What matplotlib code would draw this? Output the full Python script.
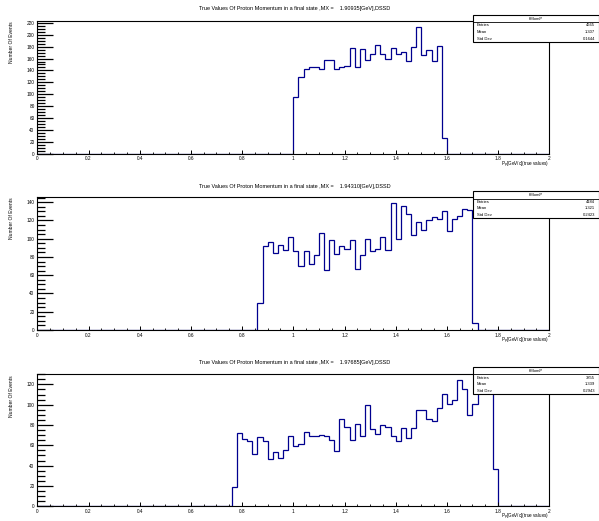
import numpy as np
import matplotlib
matplotlib.use("Agg")
import matplotlib.pyplot as plt
from matplotlib.patches import Rectangle
from matplotlib.ticker import MultipleLocator, FuncFormatter

plt.rcParams['font.family'] = ['Liberation Sans', 'DejaVu Sans']

# ---- data (counts per 0.02 GeV/c bin, 0..2 GeV/c) ----
N_BINS = 100
X_MIN, X_MAX = 0.0, 2.0

titles = [
    "True Values Of Proton Momentum in a final state ,MX =    1.90935[GeV],DSSD",
    "True Values Of Proton Momentum in a final state ,MX =    1.94310[GeV],DSSD",
    "True Values Of Proton Momentum in a final state ,MX =    1.97685[GeV],DSSD",
]

# first non-empty bin index and counts from there on
p1_first = 50
p1_counts = [96, 129, 143, 146, 145, 142, 157, 158, 142, 146,
             148, 177, 146, 176, 157, 168, 183, 168, 160, 177,
             167, 171, 156, 180, 213, 166, 174, 156, 181, 27]

p2_first = 43
p2_counts = [30, 92, 96, 84, 93, 88, 102, 86, 70, 86,
             72, 82, 106, 66, 99, 83, 92, 89, 98, 67,
             82, 100, 87, 89, 102, 88, 139, 100, 136, 127,
             104, 118, 109, 120, 124, 122, 130, 108, 122, 125,
             132, 131, 8]

p3_first = 38
p3_counts = [19, 72, 66, 64, 51, 68, 64, 47, 53, 48,
             55, 69, 59, 61, 73, 69, 69, 70, 69, 65,
             54, 86, 78, 65, 81, 69, 100, 76, 71, 80,
             78, 69, 64, 77, 67, 77, 95, 95, 86, 84,
             97, 111, 101, 105, 124, 115, 90, 101, 116, 112,
             119, 37]

stat_entries = ["4665", "4184", "3855"]
stat_means = ["1.307", "1.321", "1.339"]
stat_std = ["0.1644", "0.2423", "0.2943"]
stat_name = "hMomP"

first_bins = [p1_first, p2_first, p3_first]
counts_list = [p1_counts, p2_counts, p3_counts]

# ---- layout (pixels) ----
W, H = 599, 521
AX_L, AX_R = 37.3, 549.3
panel_y = [(20.7, 153.7), (196.7, 330.0), (374.0, 506.3)]   # top, bottom
title_y = [8.5, 186.5, 362.5]
box_y = [(15.0, 22.0, 42.0), (191.3, 198.7, 217.7), (367.3, 374.3, 394.3)]
BOX_L, BOX_R = 472.7, 598.5

LINE_COL = "#00008f"

fig = plt.figure(figsize=(W / 100, H / 100), dpi=100)


def fx(px):
    return px / W


def fy(py):
    return 1 - py / H


for i in range(3):
    top, bot = panel_y[i]
    ax = fig.add_axes([fx(AX_L), fy(bot), (AX_R - AX_L) / W, (bot - top) / H])

    vals = np.zeros(N_BINS)
    c = counts_list[i]
    vals[first_bins[i]:first_bins[i] + len(c)] = c
    edges = np.linspace(X_MIN, X_MAX, N_BINS + 1)
    ax.stairs(vals, edges, color=LINE_COL, lw=0.9, baseline=0)

    ax.set_xlim(X_MIN, X_MAX)
    ax.set_ylim(0, 1.05 * vals.max())

    for s in ax.spines.values():
        s.set_linewidth(0.8)
        s.set_color("black")

    ax.xaxis.set_major_locator(MultipleLocator(0.2))
    ax.xaxis.set_minor_locator(MultipleLocator(0.05))
    ax.yaxis.set_major_locator(MultipleLocator(20))
    ax.yaxis.set_minor_locator(MultipleLocator(5))
    ax.xaxis.set_major_formatter(FuncFormatter(lambda v, p: f"{v:g}"))
    ax.tick_params(axis="x", which="major", direction="in", length=3.0, width=0.7,
                   labelsize=3.4, pad=2)
    ax.tick_params(axis="x", which="minor", direction="in", length=1.5, width=0.6)
    ax.tick_params(axis="y", which="major", direction="in", length=11.5, width=0.9,
                   labelsize=3.4, pad=2)
    ax.tick_params(axis="y", which="minor", direction="in", length=5.8, width=0.9)

    fig.text(fx(294.5), fy(title_y[i]), titles[i], ha="center", va="center",
             fontsize=4.0)
    fig.text(fx(549.3), fy(bot + 11), r"P$_{p}$[GeV/c](true values)",
             ha="right", va="center", fontsize=3.3)
    fig.text(fx(11.5), fy(top + 1), "Number Of Events", rotation=90,
             ha="center", va="top", fontsize=3.6)

    # stats box
    b_top, b_hdr, b_bot = box_y[i]
    fig.patches.append(Rectangle((fx(BOX_L), fy(b_bot)), (BOX_R - BOX_L) / W,
                                 (b_bot - b_top) / H, transform=fig.transFigure,
                                 facecolor="white", edgecolor="black", lw=0.8,
                                 zorder=5))
    fig.add_artist(plt.Line2D([fx(BOX_L), fx(BOX_R)], [fy(b_hdr), fy(b_hdr)],
                              color="black", lw=0.6, zorder=6))
    fig.text(fx((BOX_L + BOX_R) / 2), fy((b_top + b_hdr) / 2), stat_name,
             ha="center", va="center", fontsize=3.0, zorder=7)
    row_h = (b_bot - b_hdr) / 3
    rows = [("Entries", stat_entries[i]), ("Mean", stat_means[i]),
            ("Std Dev", stat_std[i])]
    for k, (lab, v) in enumerate(rows):
        yy = fy(b_hdr + row_h * (k + 0.5))
        fig.text(fx(BOX_L + 4), yy, lab, ha="left", va="center", fontsize=3.0,
                 zorder=7)
        fig.text(fx(BOX_R - 3.5), yy, v, ha="right", va="center", fontsize=3.0,
                 zorder=7)

fig.savefig("out.png", dpi=100)
